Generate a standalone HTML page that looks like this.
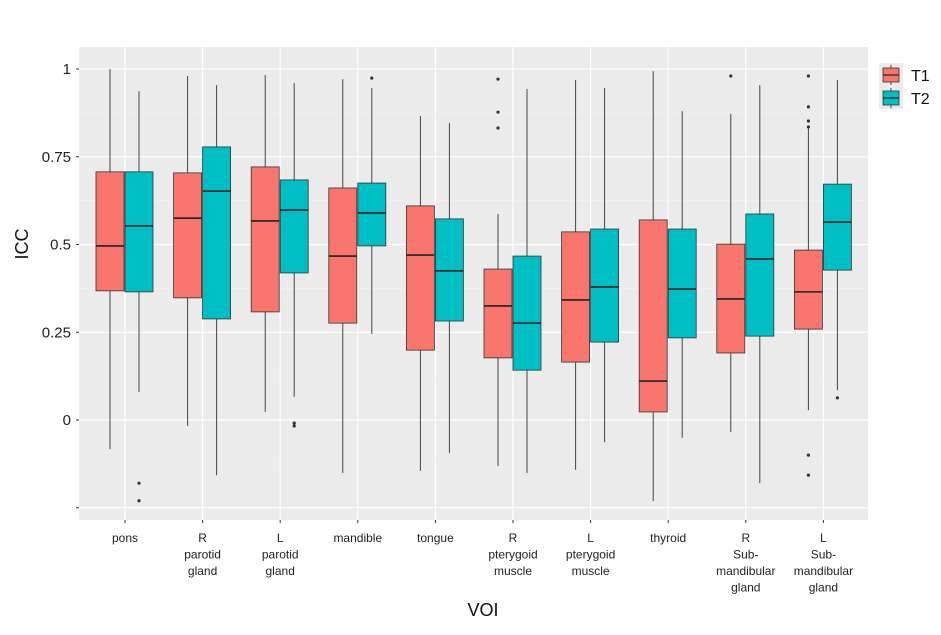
<!DOCTYPE html>
<html><head><meta charset="utf-8"><style>
body{margin:0;background:#fff;}
svg{display:block;font-family:"Liberation Sans",sans-serif;}
</style></head><body>
<svg id="chart" width="941" height="635"></svg>
<script>
const categories=[["pons"],["R","parotid","gland"],["L","parotid","gland"],["mandible"],["tongue"],["R","pterygoid","muscle"],["L","pterygoid","muscle"],["thyroid"],["R","Sub-","mandibular","gland"],["L","Sub-","mandibular","gland"]];
// [low, q1, median, q3, high]
const t1Stats=[[-0.083,0.368,0.496,0.707,1.0],[-0.017,0.348,0.575,0.704,0.98],[0.023,0.308,0.567,0.721,0.983],[-0.151,0.276,0.467,0.661,0.971],[-0.145,0.199,0.47,0.61,0.866],[-0.131,0.177,0.325,0.43,0.587],[-0.142,0.165,0.342,0.536,0.969],[-0.231,0.023,0.111,0.57,0.994],[-0.034,0.191,0.345,0.501,0.872],[0.028,0.259,0.365,0.484,0.832]];
const t2Stats=[[0.08,0.365,0.553,0.707,0.937],[-0.157,0.288,0.652,0.778,0.954],[0.066,0.419,0.598,0.684,0.96],[0.245,0.496,0.59,0.675,0.946],[-0.094,0.282,0.425,0.573,0.846],[-0.151,0.142,0.276,0.467,0.943],[-0.063,0.222,0.379,0.544,0.946],[-0.051,0.234,0.373,0.544,0.88],[-0.18,0.239,0.459,0.587,0.954],[0.085,0.427,0.564,0.672,0.969]];
const t1Outliers=[[],[],[],[],[],[0.971,0.877,0.832],[],[],[0.98],[0.98,0.892,0.852,0.835,-0.1,-0.157]];
const t2Outliers=[[-0.18,-0.23],[],[-0.009,-0.017],[0.974],[],[],[],[],[],[0.063]];
const yTicks=[1,0.75,0.5,0.25,0,-0.25];
const yTickLabels=["1","0.75","0.5","0.25","0",""];

const NS="http://www.w3.org/2000/svg";
const svg=document.getElementById('chart');
const L=79,R=868,T=47,B=520;
const y=v=>420-v*351;
const x=i=>125+i*77.6;
function mk(tag,at,parent){const e=document.createElementNS(NS,tag);for(const k in at)e.setAttribute(k,at[k]);(parent||svg).appendChild(e);return e;}
const panel=mk('rect',{x:L,y:T,width:R-L,height:B-T,fill:'#EBEBEB'});


for(let i=0;i<yTicks.length-1;i++){const m=(yTicks[i]+yTicks[i+1])/2;mk('line',{x1:L,x2:R,y1:y(m),y2:y(m),stroke:'#F5F5F5','stroke-width':0.6});}
yTicks.forEach((t,i)=>{
 mk('line',{x1:L,x2:R,y1:y(t),y2:y(t),stroke:'#fff','stroke-width':1.2});
 mk('line',{x1:L-3,x2:L,y1:y(t),y2:y(t),stroke:'#333','stroke-width':1});
 const tx=mk('text',{x:L-8,y:y(t)+5,'text-anchor':'end','font-size':15,fill:'#222'});tx.textContent=yTickLabels[i];
 
 
});
categories.forEach((c,i)=>{
 mk('line',{x1:x(i),x2:x(i),y1:T,y2:B,stroke:'#fff','stroke-width':1.2});
 mk('line',{x1:x(i),x2:x(i),y1:B,y2:B+3,stroke:'#333'});
 const tx=mk('text',{'text-anchor':'middle','font-size':12,fill:'#222'});
 
 
 c.forEach((s,j)=>{const ts=mk('tspan',{x:x(i),y:542+j*16.5},tx);ts.textContent=s;});
});
function drawBox(st,outs,cx,fill,name){
 const g=mk('g',{});
 
 
 const w=28;
 mk('line',{x1:cx,x2:cx,y1:y(st[4]),y2:y(st[3]),stroke:'#444','stroke-width':1},g);
 mk('line',{x1:cx,x2:cx,y1:y(st[1]),y2:y(st[0]),stroke:'#444','stroke-width':1},g);
 mk('rect',{x:cx-w/2,y:y(st[3]),width:w,height:y(st[1])-y(st[3]),fill:fill,stroke:'#333','stroke-width':0.8},g);
 mk('line',{x1:cx-w/2,x2:cx+w/2,y1:y(st[2]),y2:y(st[2]),stroke:'#222','stroke-width':1.6},g);
 outs.forEach(o=>mk('circle',{cx:cx,cy:y(o),r:1.6,fill:'#333'},g));
}
categories.forEach((c,i)=>{
 drawBox(t1Stats[i],t1Outliers[i],x(i)-15,'#F8766D','box-t1');
 drawBox(t2Stats[i],t2Outliers[i],x(i)+14,'#00BFC4','box-t2');
});
const yt=mk('text',{x:0,y:0,transform:'translate(28,244) rotate(-90)','text-anchor':'middle','font-size':18,fill:'#111'});yt.textContent='ICC';


const xt=mk('text',{x:483,y:616,'text-anchor':'middle','font-size':18,fill:'#111'});xt.textContent='VOI';


[['T1','#F8766D',75],['T2','#00BFC4',98]].forEach(([n,f,cy])=>{
 const g=mk('g',{});
 
 
 mk('rect',{x:879,y:cy-12,width:24,height:23,fill:'#EBEBEB'},g);
 mk('line',{x1:891,x2:891,y1:cy-10,y2:cy+10,stroke:'#444'},g);
 mk('rect',{x:883,y:cy-7,width:16,height:14,fill:f,stroke:'#333','stroke-width':0.8},g);
 mk('line',{x1:883,x2:899,y1:cy,y2:cy,stroke:'#222','stroke-width':1.2},g);
 const t=mk('text',{x:911,y:cy+6,'font-size':16,fill:'#111'},g);t.textContent=n;
});
</script>
</body></html>
